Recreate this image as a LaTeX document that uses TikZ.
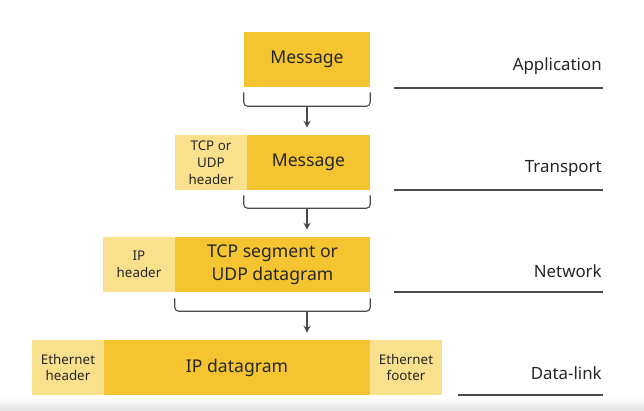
\documentclass[tikz,border=0pt]{standalone}
\usepackage{fontspec}
\setmainfont{Noto Sans}
\usetikzlibrary{arrows.meta}

\definecolor{dataYellow}{HTML}{F5C531}
\definecolor{headYellow}{HTML}{F8E08C}
\definecolor{inkGray}{HTML}{262626}
\definecolor{ruleGray}{HTML}{4A4A4A}

\begin{document}
\begin{tikzpicture}[x = 0.025cm, y = -0.025cm,
						payload/.style={fill=dataYellow, inner sep=0pt, minimum height=1.375cm,
							text=inkGray, font=\fontsize{12.5}{15}\selectfont, align=center},
						header/.style={fill=headYellow, inner sep=0pt, minimum height=1.375cm,
							minimum width=1.8cm, text=inkGray, font=\fontsize{9.5}{12}\selectfont, align=center},
						brace/.style={draw=ruleGray, line width=0.8pt, rounded corners=0.1cm},
						layer/.style={anchor=east, inner sep=0pt, text=inkGray, font=\fontsize{12}{14}\selectfont},
						layerline/.style={draw=ruleGray, line width=1pt},
						down/.style={-{Stealth[length=5pt, width=5pt]}, draw=ruleGray, line width=0.8pt},
						]

		% Frame of the picture
		\useasboundingbox (0, 0) rectangle (644, 411);
		\shade[top color=white, bottom color=black!12] (0, 397) rectangle (644, 411);

		% Application layer
		\node[payload, minimum width=3.15cm] (msgA) at (307, 59.5) {Message};

		% Transport layer
		\node[payload, minimum width=3.075cm] (msgB) at (308.5, 162.5) {Message};
		\node[header] (tcpHead) at (211, 162.5) {TCP or\\UDP\\header};

		% Network layer
		\node[payload, minimum width=4.875cm, font=\fontsize{12.5}{16}\selectfont] (segC) at (272.5, 264.5) {TCP segment or\\UDP datagram};
		\node[header] (ipHead) at (139, 264.5) {IP\\header};

		% Data-link layer
		\node[payload, minimum width=6.65cm] (ipD) at (237, 367.5) {IP datagram};
		\node[header] (ethHead) at (68, 367.5) {Ethernet\\header};
		\node[header] (ethFoot) at (406, 367.5) {Ethernet\\footer};

		% Braces under the payloads
		\draw[brace] ([shift={(0, 5)}]msgA.south west) -- ++(0, 14) -- ([shift={(0, 19)}]msgA.south east) -- ++(0, -14);
		\draw[brace] ([shift={(-3, 5)}]msgB.south west) -- ++(0, 13) -- ([shift={(0, 18)}]msgB.south east) -- ++(0, -13);
		\draw[brace] ([shift={(0, 6)}]segC.south west) -- ++(0, 13) -- ([shift={(0, 19)}]segC.south east) -- ++(0, -13);

		% Arrows between the layers
		\coordinate (brA) at (307, 106);
		\coordinate (brB) at (307, 208);
		\coordinate (brC) at (307, 311);
		\draw[down, shorten >=0.175cm] (brA) -- (brA |- msgB.north);
		\draw[down, shorten >=0.175cm] (brB) -- (brB |- segC.north);
		\draw[down, shorten >=0.175cm] (brC) -- (brC |- ipD.north);

		% Layer names and rules
		\node[layer] (appName) at (602, 66.5) {Application};
		\node[layer] (trnName) at (602, 168.5) {Transport};
		\node[layer] (netName) at (602, 271.5) {Network};
		\node[layer] (linkName) at (602, 373.5) {Data-link};

		\draw[layerline] (394, 88) -- (603, 88);
		\draw[layerline] (394, 190) -- (603, 190);
		\draw[layerline] (394, 292) -- (603, 292);
		\draw[layerline] (458, 395) -- (603, 395);

	\end{tikzpicture}
\end{document}
